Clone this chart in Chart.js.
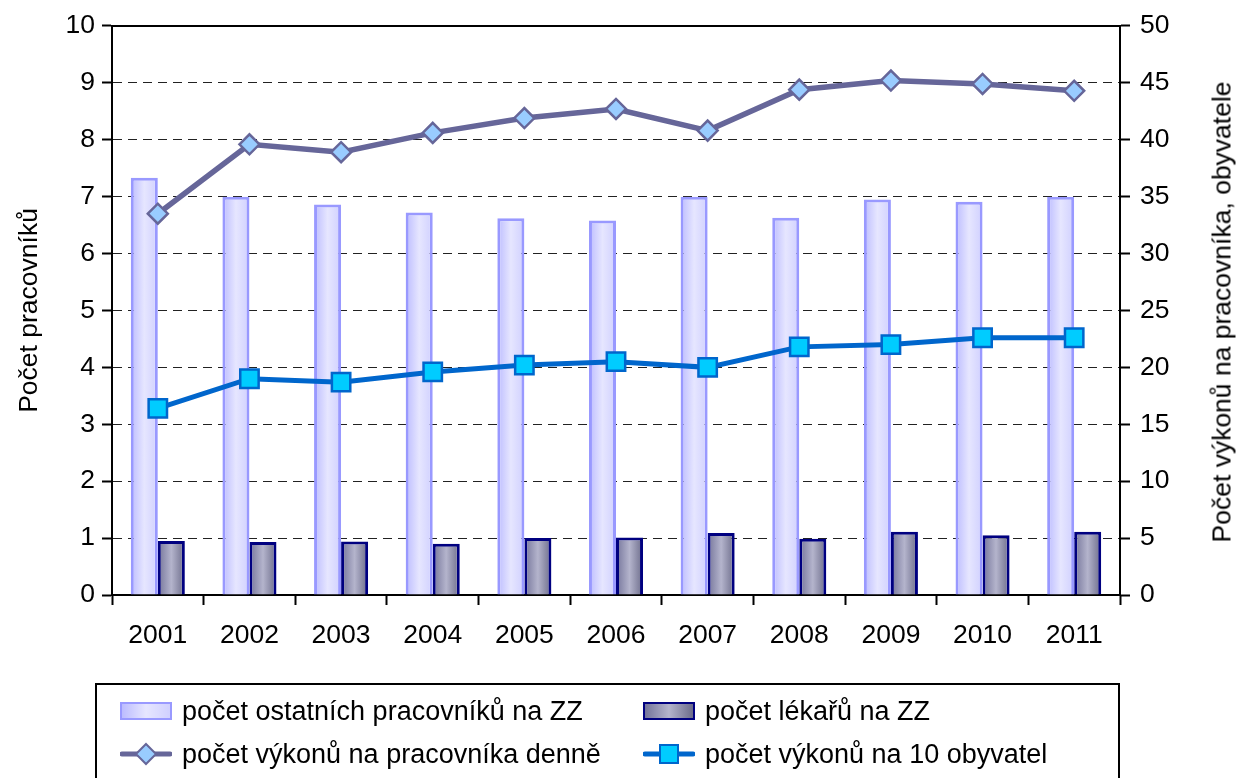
<!DOCTYPE html>
<html>
<head>
<meta charset="utf-8">
<script src="https://cdn.jsdelivr.net/npm/chart.js@4"></script>
<style>
  body { margin: 0; background: #fff; overflow: hidden; }
  #wrap { position: relative; width: 1239px; height: 778px; font-family: "Liberation Sans", Arial, sans-serif; }
  #rightTitle {
    position: absolute; left: 1222px; top: 312px; font-size: 26.5px; white-space: nowrap;
    transform: translate(-50%, -50%) rotate(-90deg); color: #000;
  }
  #legend {
    position: absolute; left: 95px; top: 683px; width: 1025px; height: 110px;
    border: 2px solid #000; box-sizing: border-box; font-size: 27px; color: #000;
  }
  .item { position: absolute; display: flex; align-items: center; height: 30px; white-space: nowrap; }
  .sw { width: 52px; height: 30px; position: relative; margin-right: 10px; }
  .barsw { position: absolute; left: 0; top: 6px; width: 48px; height: 14px; }
</style>
</head>
<body>
<div id="wrap">
  <canvas id="myChart" width="1239" height="778"></canvas>
  <div id="rightTitle">Počet výkonů na pracovníka, obyvatele</div>
  <div id="legend"></div>
</div>
<script>
const roky = ['2001', '2002', '2003', '2004', '2005', '2006', '2007', '2008', '2009', '2010', '2011'];
const ostatni = [7.33, 7.0, 6.86, 6.72, 6.62, 6.58, 7.0, 6.63, 6.95, 6.91, 7.0];
const lekari = [0.95, 0.93, 0.94, 0.90, 1.0, 1.01, 1.09, 0.99, 1.11, 1.05, 1.11];
const vykonyDenne = [33.5, 39.6, 38.9, 40.6, 41.9, 42.7, 40.8, 44.4, 45.2, 44.9, 44.3];
const vykony10 = [16.4, 19.0, 18.7, 19.6, 20.2, 20.5, 20.0, 21.8, 22.0, 22.6, 22.6];

const catPct = 0.59;

function gradient(stops, side) {
    return function(c) {
        const chart = c.chart;
        const xs = chart.scales.x;
        if (c.dataIndex === undefined || !xs || !xs.width) return stops[1];
        const mid = xs.getPixelForValue(c.dataIndex);
        const w = xs.width / roky.length * catPct / 2;
        const x0 = side < 0 ? mid - w : mid;
        const g = chart.ctx.createLinearGradient(x0, 0, x0 + w, 0);
        g.addColorStop(0, stops[0]);
        g.addColorStop(0.5, stops[1]);
        g.addColorStop(1, stops[2]);
        return g;
    };
}

const svetle = ['#bcbcff', '#e6e6ff', '#d0d0ff'];
const tmave = ['#74749a', '#b4b4cc', '#6c6c8a'];

const font = { family: '"Liberation Sans", Arial, sans-serif', size: 26.5 };

document.addEventListener('DOMContentLoaded', function() {
    const ctx = document.getElementById('myChart').getContext('2d');
    new Chart(ctx, {
        type: 'bar',
        data: {
            labels: roky,
            datasets: [{
                type: 'line',
                label: 'počet výkonů na pracovníka denně',
                data: vykonyDenne,
                yAxisID: 'y1',
                order: 0,
                borderColor: '#666699',
                borderWidth: 5.5,
                pointStyle: 'rectRot',
                pointRadius: 10,
                pointBackgroundColor: '#99ccff',
                pointBorderColor: '#666699',
                pointBorderWidth: 2.5,
                lineTension: 0
            }, {
                type: 'line',
                label: 'počet výkonů na 10 obyvatel',
                data: vykony10,
                yAxisID: 'y1',
                order: 0,
                borderColor: '#0066cc',
                borderWidth: 5,
                pointStyle: 'rect',
                pointRadius: 13,
                pointBackgroundColor: '#00ccff',
                pointBorderColor: '#0066cc',
                pointBorderWidth: 2.5,
                lineTension: 0
            }, {
                label: 'počet ostatních pracovníků na ZZ',
                data: ostatni,
                yAxisID: 'y',
                order: 1,
                backgroundColor: gradient(svetle, -1),
                borderColor: '#9999ff',
                borderWidth: 3,
                categoryPercentage: catPct,
                barPercentage: 1
            }, {
                label: 'počet lékařů na ZZ',
                data: lekari,
                yAxisID: 'y',
                order: 1,
                backgroundColor: gradient(tmave, 1),
                borderColor: '#000080',
                borderWidth: 3,
                categoryPercentage: catPct,
                barPercentage: 1
            }]
        },
        options: {
            responsive: false,
            animation: false,
            layout: { padding: { top: 24, left: 0, right: 0, bottom: 0 } },
            plugins: {
                legend: { display: false },
                tooltip: { enabled: false }
            },
            scales: {
                x: {
                    position: 'bottom',
                    grid: { drawOnChartArea: false, tickLength: 10, tickWidth: 2, tickColor: '#000' },
                    border: { color: '#000', width: 2 },
                    ticks: { color: '#000', font: font, padding: 15 },
                    afterFit: s => { s.height = 183; }
                },
                x2: {
                    position: 'top',
                    grid: { display: false },
                    ticks: { display: false },
                    border: { color: '#000', width: 2 },
                    afterFit: s => { s.height = 0; }
                },
                y: {
                    position: 'left',
                    min: 0, max: 10,
                    ticks: { stepSize: 1, color: '#000', font: font, padding: 7 },
                    grid: { color: '#222', lineWidth: 1, tickLength: 10, tickWidth: 2, tickColor: '#000' },
                    border: { color: '#000', width: 2, dash: [9, 6] },
                    title: { display: true, text: 'Počet pracovníků', color: '#000', font: font, padding: { top: 14, bottom: 0 } },
                    afterFit: s => { s.width = 112; }
                },
                y1: {
                    position: 'right',
                    min: 0, max: 50,
                    ticks: { stepSize: 5, color: '#000', font: font, padding: 10 },
                    grid: { drawOnChartArea: false, tickLength: 10, tickWidth: 2, tickColor: '#000' },
                    border: { color: '#000', width: 2 },
                    afterFit: s => { s.width = 119; }
                }
            }
        }
    });

    // legenda
    const polozky = [
        { text: 'počet ostatních pracovníků na ZZ', x: 23, y: 11, bar: svetle, border: '#9999ff' },
        { text: 'počet lékařů na ZZ', x: 546, y: 11, bar: tmave, border: '#000080' },
        { text: 'počet výkonů na pracovníka denně', x: 23, y: 54, line: '#666699', fill: '#99ccff', shape: 'diamond' },
        { text: 'počet výkonů na 10 obyvatel', x: 546, y: 54, line: '#0066cc', fill: '#00ccff', shape: 'square' }
    ];
    const legend = document.getElementById('legend');
    polozky.forEach(p => {
        const el = document.createElement('div');
        el.className = 'item';
        el.style.left = p.x + 'px';
        el.style.top = p.y + 'px';
        let sw;
        if (p.bar) {
            sw = '<div class="sw"><div class="barsw" style="background:linear-gradient(to right,' + p.bar.join(',') +
                ');border:2px solid ' + p.border + '"></div></div>';
        } else {
            const marker = p.shape === 'diamond'
                ? '<polygon points="26,5 36,15 26,25 16,15" fill="' + p.fill + '" stroke="' + p.line + '" stroke-width="2"/>'
                : '<rect x="17" y="6" width="18" height="18" fill="' + p.fill + '" stroke="' + p.line + '" stroke-width="2"/>';
            sw = '<div class="sw"><svg width="52" height="30"><line x1="2" y1="15" x2="50" y2="15" stroke="' + p.line +
                '" stroke-width="5" stroke-linecap="round"/>' + marker + '</svg></div>';
        }
        el.innerHTML = sw + '<span>' + p.text + '</span>';
        legend.appendChild(el);
    });
});
</script>
</body>
</html>
